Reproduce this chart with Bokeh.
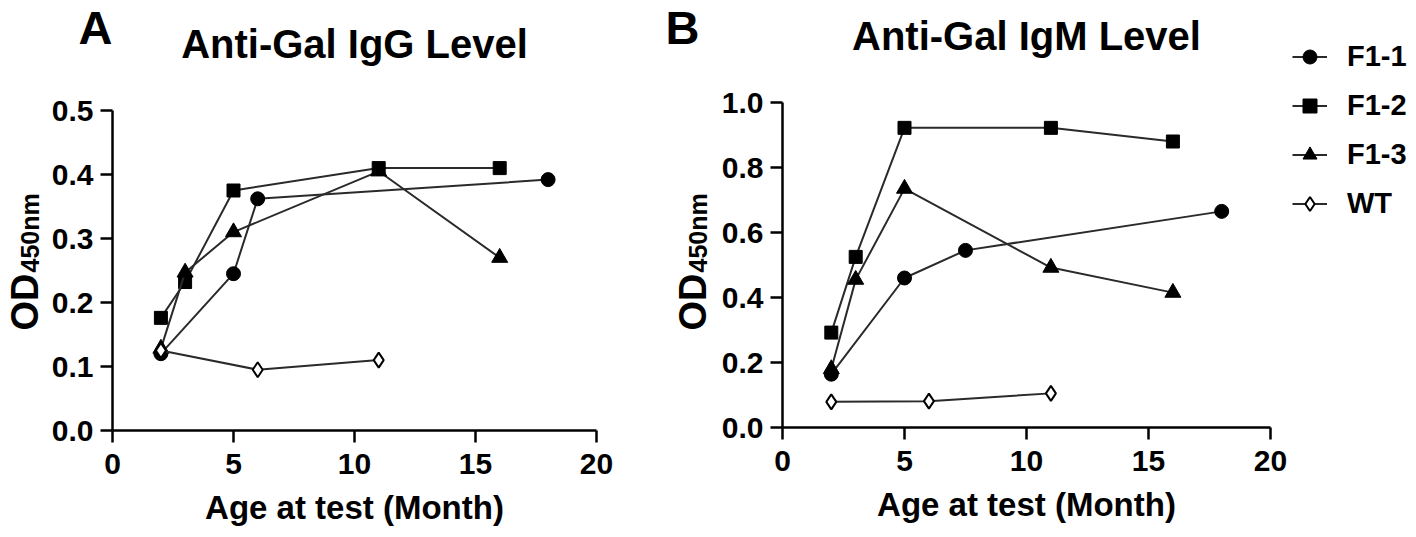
import math
from bokeh.plotting import figure
from bokeh.models import Range1d, FixedTicker, NumeralTickFormatter, Label, Legend, LegendItem
from bokeh.layouts import row, column
from bokeh.embed import file_html
from bokeh.resources import INLINE

FONT = "Liberation Sans"

# ---- data: Anti-Gal IgG (panel A) ----
igg_f11_x = [2, 5, 6, 18]
igg_f11_y = [0.120, 0.245, 0.362, 0.392]
igg_f12_x = [2, 3, 5, 11, 16]
igg_f12_y = [0.176, 0.232, 0.375, 0.410, 0.410]
igg_f13_x = [2, 3, 5, 11, 16]
igg_f13_y = [0.128, 0.247, 0.310, 0.405, 0.270]
igg_wt_x = [2, 6, 11]
igg_wt_y = [0.125, 0.095, 0.110]

# ---- data: Anti-Gal IgM (panel B) ----
igm_f11_x = [2, 5, 7.5, 18]
igm_f11_y = [0.164, 0.460, 0.545, 0.665]
igm_f12_x = [2, 3, 5, 11, 16]
igm_f12_y = [0.292, 0.525, 0.922, 0.922, 0.880]
igm_f13_x = [2, 3, 5, 11, 16]
igm_f13_y = [0.180, 0.455, 0.735, 0.492, 0.415]
igm_wt_x = [2, 6, 11]
igm_wt_y = [0.079, 0.081, 0.105]

series_names = ["F1-1", "F1-2", "F1-3", "WT"]
x_ticks = [0, 5, 10, 15, 20]
igg_ticks = [0.0, 0.1, 0.2, 0.3, 0.4, 0.5]
igm_ticks = [0.0, 0.2, 0.4, 0.6, 0.8, 1.0]

LINE_COLOR = "#2a2a2a"
MARKERS = [("circle", 14, "black"), ("square", 13, "black"),
           ("triangle", 16, "black"), ("diamond", 15, "white")]


def blank(width, height, top=0, bottom=0):
    p = figure(width=width, height=height, output_backend="svg", toolbar_location=None,
               x_range=Range1d(0, 1), y_range=Range1d(0, 1),
               x_axis_type=None, y_axis_type=None, min_border=0,
               min_border_top=top, min_border_bottom=bottom)
    p.outline_line_color = None
    p.grid.visible = False
    return p


def add_text(p, text, x, y, size, angle=0.0, align="left"):
    p.add_layout(Label(x=x, y=y, x_units="screen", y_units="screen", text=text,
                       text_font=FONT, text_font_style="bold", text_font_size=size,
                       text_color="black", angle=angle, text_align=align,
                       text_baseline="alphabetic"))


def style_axes(p, yticks):
    for ax in (p.xaxis[0], p.yaxis[0]):
        ax.axis_line_width = 2.5
        ax.axis_line_color = "black"
        ax.major_tick_line_width = 2.5
        ax.major_tick_line_color = "black"
        ax.major_tick_out = 12
        ax.major_tick_in = 0
        ax.minor_tick_out = 0
        ax.minor_tick_in = 0
        ax.major_label_text_font = FONT
        ax.major_label_text_font_style = "bold"
        ax.major_label_text_font_size = "30px"
        ax.major_label_text_color = "black"
    p.xaxis.ticker = FixedTicker(ticks=x_ticks)
    p.yaxis.ticker = FixedTicker(ticks=yticks)
    p.xaxis.formatter = NumeralTickFormatter(format="0")
    p.yaxis.formatter = NumeralTickFormatter(format="0.0")
    p.xaxis.major_label_standoff = 11
    p.yaxis.major_label_standoff = 7
    p.xaxis.axis_label = "Age at test (Month)"
    p.xaxis.axis_label_text_font = FONT
    p.xaxis.axis_label_text_font_style = "bold"
    p.xaxis.axis_label_text_font_size = "33px"
    p.xaxis.axis_label_text_color = "black"
    p.xaxis.axis_label_standoff = 12
    p.grid.visible = False
    p.outline_line_color = None


def add_series(p, xs, ys, marker, size, fill):
    l = p.line(xs, ys, line_color=LINE_COLOR, line_width=2)
    s = p.scatter(xs, ys, marker=marker, size=size, fill_color=fill,
                  line_color="black", line_width=2 if fill == "white" else 1)
    return [l, s]


def panel(ymax, yticks, series, fw, fh, mb_left, mb_right, mb_top, mb_bottom):
    p = figure(frame_width=fw, frame_height=fh,
               output_backend="svg", toolbar_location=None,
               x_range=Range1d(0, 20), y_range=Range1d(0, ymax),
               min_border_left=mb_left, min_border_right=mb_right,
               min_border_top=mb_top, min_border_bottom=mb_bottom)
    style_axes(p, yticks)
    for (xs, ys), (m, sz, fc) in zip(series, MARKERS):
        add_series(p, xs, ys, m, sz, fc)
    return p


TOP = 80
BODY = 449

# ---------------- Panel A ----------------
ta = blank(660, TOP)
add_text(ta, "A", 78, TOP - 27, "47px")
add_text(ta, "Anti-Gal IgG Level", 354, TOP - 43, "40px", align="center")

ya = blank(48, BODY, top=110 - TOP, bottom=99)
add_text(ya, "OD", 24, 100, "38px", angle=math.pi / 2)
add_text(ya, "450nm", 29, 158, "25px", angle=math.pi / 2)

pa = panel(0.5, igg_ticks,
           [(igg_f11_x, igg_f11_y), (igg_f12_x, igg_f12_y), (igg_f13_x, igg_f13_y), (igg_wt_x, igg_wt_y)],
           484, 320, 64, 64, 110 - TOP, 99)

# ---------------- Panel B ----------------
tb = blank(630, TOP)
add_text(tb, "B", 5, TOP - 27, "47px")
add_text(tb, "Anti-Gal IgM Level", 366, TOP - 35, "40px", align="center")

yb = blank(52, BODY, top=102 - TOP, bottom=102)
add_text(yb, "OD", 32, 97, "38px", angle=math.pi / 2)
add_text(yb, "450nm", 37, 155, "25px", angle=math.pi / 2)

pb = panel(1.0, igm_ticks,
           [(igm_f11_x, igm_f11_y), (igm_f12_x, igm_f12_y), (igm_f13_x, igm_f13_y), (igm_wt_x, igm_wt_y)],
           488, 325, 70, 20, 102 - TOP, 102)

# ---------------- Legend column ----------------
lb = figure(width=118, height=TOP + BODY, output_backend="svg", toolbar_location=None,
            x_range=Range1d(100, 101), y_range=Range1d(100, 101),
            x_axis_type=None, y_axis_type=None, min_border=0)
lb.outline_line_color = None
lb.grid.visible = False
items = []
for name, (xs, ys), (m, sz, fc) in zip(series_names,
                                       [(igm_f11_x, igm_f11_y), (igm_f12_x, igm_f12_y),
                                        (igm_f13_x, igm_f13_y), (igm_wt_x, igm_wt_y)], MARKERS):
    items.append(LegendItem(label=name, renderers=add_series(lb, xs, ys, m, sz, fc)))
legend = Legend(items=items, location=(2, 308), orientation="vertical",
                label_text_font=FONT, label_text_font_style="bold", label_text_font_size="29px",
                label_text_color="black", glyph_width=35, glyph_height=35, label_height=20,
                label_standoff=20, spacing=14, padding=0, margin=0,
                border_line_color=None, background_fill_alpha=0)
lb.add_layout(legend)

layout = row(column(ta, row(ya, pa)), column(tb, row(yb, pb)), lb)
open("out.html", "w").write(file_html(layout, INLINE))
